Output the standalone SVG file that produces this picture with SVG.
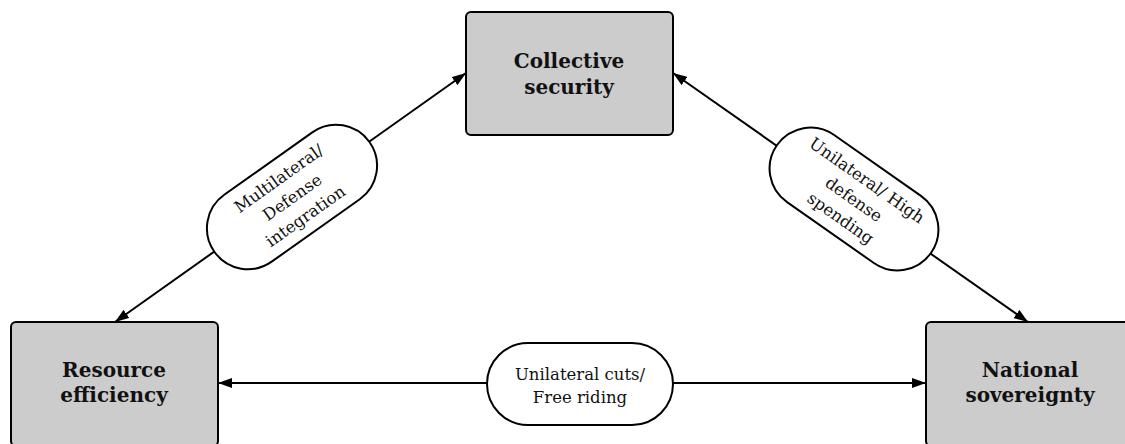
<svg xmlns="http://www.w3.org/2000/svg" width="1125" height="444" viewBox="0 0 1125 444">
<style>
.node{fill:#cccccc;stroke:#000;stroke-width:2}
.nt{font-family:"DejaVu Serif","Liberation Serif",serif;font-weight:bold;font-size:20px;text-anchor:middle;fill:#111}
.edge{stroke:#000;stroke-width:2;fill:none;marker-start:url(#ah);marker-end:url(#ah)}
.pill{fill:#fff;stroke:#000;stroke-width:2}
.lt{font-family:"DejaVu Serif","Liberation Serif",serif;font-size:16.5px;text-anchor:middle;fill:#111}
</style>
<defs>
<marker id="ah" viewBox="0 0 14 10" refX="14" refY="5" markerWidth="14" markerHeight="10" markerUnits="userSpaceOnUse" orient="auto-start-reverse">
<path d="M0,0 L14,5 L0,10 Z" fill="#000"/>
</marker>
</defs>
<g id="connectors">
<line class="edge" x1="115" y1="322" x2="466" y2="73"/>
<line class="edge" x1="673" y1="73" x2="1028" y2="322"/>
<line class="edge" x1="218" y1="383" x2="926" y2="383"/>
</g>
<g id="label-multilateral" transform="translate(292,197) rotate(-35.35)">
<rect class="pill" x="-95" y="-41" width="190" height="82" rx="41"/>
<text class="lt" x="0" y="-17">Multilateral/</text>
<text class="lt" x="0" y="6">Defense</text>
<text class="lt" x="0" y="29">integration</text>
</g>
<g id="label-unilateral-high" transform="translate(854,199) rotate(35.04)">
<rect class="pill" x="-94" y="-41" width="188" height="82" rx="41"/>
<text class="lt" x="0" y="-17">Unilateral/ High</text>
<text class="lt" x="0" y="6">defense</text>
<text class="lt" x="0" y="29">spending</text>
</g>
<g id="label-unilateral-cuts">
<rect class="pill" x="487" y="343" width="186" height="82" rx="41"/>
<text class="lt" x="580" y="380">Unilateral cuts/</text>
<text class="lt" x="580" y="403">Free riding</text>
</g>
<g id="node-collective">
<rect class="node" x="466" y="12" width="207" height="123" rx="5"/>
<text class="nt" x="569" y="68">Collective</text>
<text class="nt" x="569" y="94">security</text>
</g>
<g id="node-resource">
<rect class="node" x="11" y="322" width="207" height="124" rx="5"/>
<text class="nt" x="114" y="377">Resource</text>
<text class="nt" x="114" y="402">efficiency</text>
</g>
<g id="node-national">
<rect class="node" x="926" y="322" width="207" height="124" rx="5"/>
<text class="nt" x="1030" y="377">National</text>
<text class="nt" x="1030" y="402">sovereignty</text>
</g>
</svg>
